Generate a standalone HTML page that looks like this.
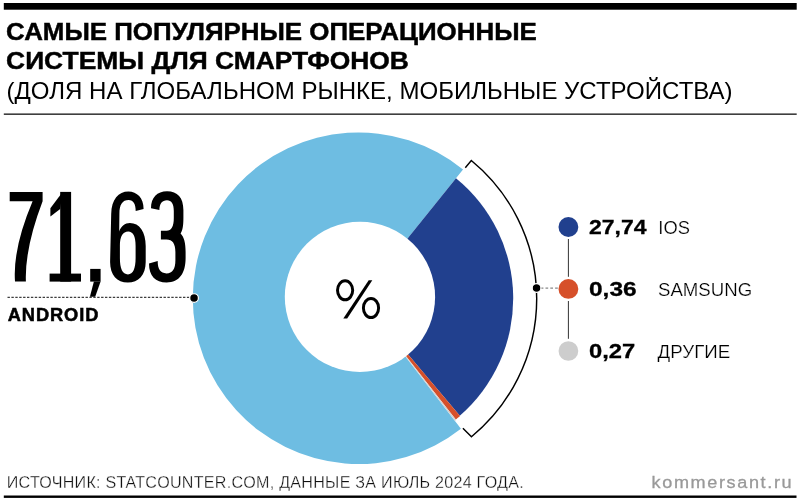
<!DOCTYPE html>
<html lang="ru"><head><meta charset="utf-8"><title>chart</title>
<style>
html,body{margin:0;padding:0;background:#fff;}
body{width:800px;height:502px;overflow:hidden;font-family:"Liberation Sans",sans-serif;}
svg{display:block;will-change:transform;}
text{font-family:"Liberation Sans",sans-serif;}
.b{font-weight:bold;}
</style></head><body>
<svg width="800" height="502" viewBox="0 0 800 502">
<rect width="800" height="502" fill="#fff"/>
<!-- rules -->
<rect x="3.8" y="3" width="792.9" height="6.7" fill="#000"/>
<rect x="3.8" y="113.5" width="792.9" height="1.3" fill="#111"/>
<rect x="3.8" y="495.5" width="792.7" height="2.4" fill="#000"/>
<!-- title -->
<text class="b" x="6.1" y="39.6" font-size="24" textLength="530.7" lengthAdjust="spacingAndGlyphs" stroke="#000" stroke-width="0.45">САМЫЕ ПОПУЛЯРНЫЕ ОПЕРАЦИОННЫЕ</text>
<text class="b" x="6.1" y="69.2" font-size="24" textLength="402.8" lengthAdjust="spacingAndGlyphs" stroke="#000" stroke-width="0.45">СИСТЕМЫ ДЛЯ СМАРТФОНОВ</text>
<text x="6.6" y="98.6" font-size="23.4" textLength="726" lengthAdjust="spacingAndGlyphs">(ДОЛЯ НА ГЛОБАЛЬНОМ РЫНКЕ, МОБИЛЬНЫЕ УСТРОЙСТВА)</text>
<!-- donut -->
<path d="M360.00,297.60 L460.95,428.69 A165.8,165.8 0 1 1 463.02,169.47 Z" fill="#6EBDE2"/>
<path d="M360.00,297.60 L455.99,178.21 A155.2,155.2 0 0 1 459.81,415.71 Z" fill="#21408E"/>
<path d="M360.00,297.60 L460.07,416.02 A155.6,155.6 0 0 1 455.82,419.58 Z" fill="#D6502A"/>
<path d="M360.00,297.60 L456.06,419.89 A156.0,156.0 0 0 1 454.90,420.83 Z" fill="#D0D0D0"/>
<circle cx="359.95" cy="296.9" r="75.15" fill="#fff"/>
<!-- percent -->
<g fill="none" stroke="#000">
<ellipse cx="345.1" cy="290.3" rx="7.6" ry="9.5" stroke-width="2.95"/>
<ellipse cx="371.0" cy="308.0" rx="7.6" ry="9.5" stroke-width="2.95"/>
</g>
<path d="M368.7,280.2 H372.3 L347.2,318.4 H343.3 Z" fill="#000"/>
<!-- bracket -->
<path d="M465.30,167.70 L471.31,160.51 A178.7,178.7 0 0 1 471.47,436.75 L462.90,428.30" fill="none" stroke="#000" stroke-width="1.45"/>
<line x1="540.7" y1="288.15" x2="560" y2="288.15" stroke="#888" stroke-width="1.1" stroke-dasharray="2.7 2.1"/>
<circle cx="536.55" cy="288.0" r="4.35" fill="#000" stroke="#fff" stroke-width="1.2"/>
<!-- android leader -->
<line x1="7.5" y1="297.3" x2="190" y2="297.3" stroke="#000" stroke-width="0.95" stroke-dasharray="2.4 1.5"/>
<circle cx="194.05" cy="298.1" r="4.35" fill="#000" stroke="#fff" stroke-width="1.2"/>
<!-- big number 71,63 -->
<g fill="#000">
<path d="M9.7,191.9 H42.6 V201.3 Q24.6,248.5 25.9,281.6 H15 Q12.6,248.5 32.6,201.3 H9.7 Z"/>
<rect x="60.2" y="191.9" width="10.9" height="89.7"/>
<rect x="49.6" y="273.6" width="31.4" height="8"/>
<path d="M62.6,191.9 L50.4,208.2 V216.6 L60.2,209 Z"/>
<rect x="90.2" y="268.9" width="10.4" height="12.7"/>
<path d="M93.9,281.6 H100.6 L95.2,296.8 H89.9 Z"/>
</g>
<path fill="#000" fill-rule="evenodd" d="M143.6,208.9 C143.6,198 137,191.5 128.4,191.5 C118.5,191.5 111.4,199.5 111.2,214 L110.1,262 C110.1,275 117,282.6 127.8,282.6 C138.5,282.6 145.7,275 145.7,262 V246 C145.7,232 139.5,223.1 129.9,223.1 C125,223.1 121,226.5 119.2,231.4 L119.4,214 C119.4,204.5 122.5,200.1 128.6,200.1 C133.5,200.1 135.7,204.5 135.7,211.1 Z M119.9,246 C119.9,236 123,231.4 128.2,231.4 C133,231.4 135.6,236 135.6,246 V258 C135.6,268.5 133,274.4 128,274.4 C122.5,274.4 119.9,268.5 119.9,258 Z"/>
<path fill="#000" d="M151,208.3 C151,197.5 157,191.2 167.1,191.2 C177.5,191.2 183.4,197.5 183.4,210 V218 C183.4,226 182.5,230.5 180.6,233.6 C184,237 185.6,243 185.6,252 V258 C185.6,273 179.5,282.4 166.6,282.4 C155.5,282.4 149,276 149,263.4 L157.7,261.1 C157.7,269.5 160.5,273.4 166.5,273.4 C172.5,273.4 175.4,269 175.4,260 V252 C175.4,243.5 172.5,239.4 166.5,239.4 H160.9 V230.7 H166.5 C171.5,230.7 173.8,226.5 173.8,218 V211 C173.8,204 171.5,200.3 167,200.3 C162,200.3 159.4,204 159.4,210.1 Z"/>
<text class="b" x="7.7" y="320.5" font-size="17.6" letter-spacing="0.9" textLength="91.6" lengthAdjust="spacingAndGlyphs" stroke="#000" stroke-width="0.5">ANDROID</text>
<!-- legend -->
<line x1="568.4" y1="239.0" x2="568.4" y2="276.8" stroke="#333" stroke-width="1"/>
<line x1="568.4" y1="301.0" x2="568.4" y2="338.8" stroke="#333" stroke-width="1"/>
<circle cx="568.4" cy="227" r="9.9" fill="#21408E"/>
<circle cx="568.4" cy="288.9" r="9.9" fill="#D6502A"/>
<circle cx="568.4" cy="351.0" r="9.85" fill="#CDCDCD"/>
<text class="b" x="589" y="233.9" font-size="19.6" textLength="57.5" lengthAdjust="spacingAndGlyphs" stroke="#000" stroke-width="0.3">27,74</text>
<text class="b" x="589" y="295.8" font-size="19.6" textLength="47.6" lengthAdjust="spacingAndGlyphs" stroke="#000" stroke-width="0.3">0,36</text>
<text class="b" x="589" y="358" font-size="19.6" textLength="46.2" lengthAdjust="spacingAndGlyphs" stroke="#000" stroke-width="0.3">0,27</text>
<text x="658.3" y="233.9" font-size="18" textLength="31.6" lengthAdjust="spacingAndGlyphs" stroke="#fff" stroke-width="0.22">IOS</text>
<text x="658" y="295.8" font-size="18" textLength="94.2" lengthAdjust="spacingAndGlyphs" stroke="#fff" stroke-width="0.22">SAMSUNG</text>
<text x="657.6" y="358" font-size="18" textLength="72.7" lengthAdjust="spacingAndGlyphs" stroke="#fff" stroke-width="0.22">ДРУГИЕ</text>
<!-- footer -->
<text x="6.8" y="488.2" font-size="15.6" textLength="517.2" letter-spacing="0.25" lengthAdjust="spacingAndGlyphs" fill="#111" stroke="#fff" stroke-width="0.28">ИСТОЧНИК: STATCOUNTER.COM, ДАННЫЕ ЗА ИЮЛЬ 2024 ГОДА.</text>
<text x="651.6" y="487.6" font-size="16.8" fill="#999" stroke="#999" stroke-width="0.3" letter-spacing="1.5" textLength="141.6" lengthAdjust="spacingAndGlyphs">kommersant.ru</text>
</svg>
</body></html>
